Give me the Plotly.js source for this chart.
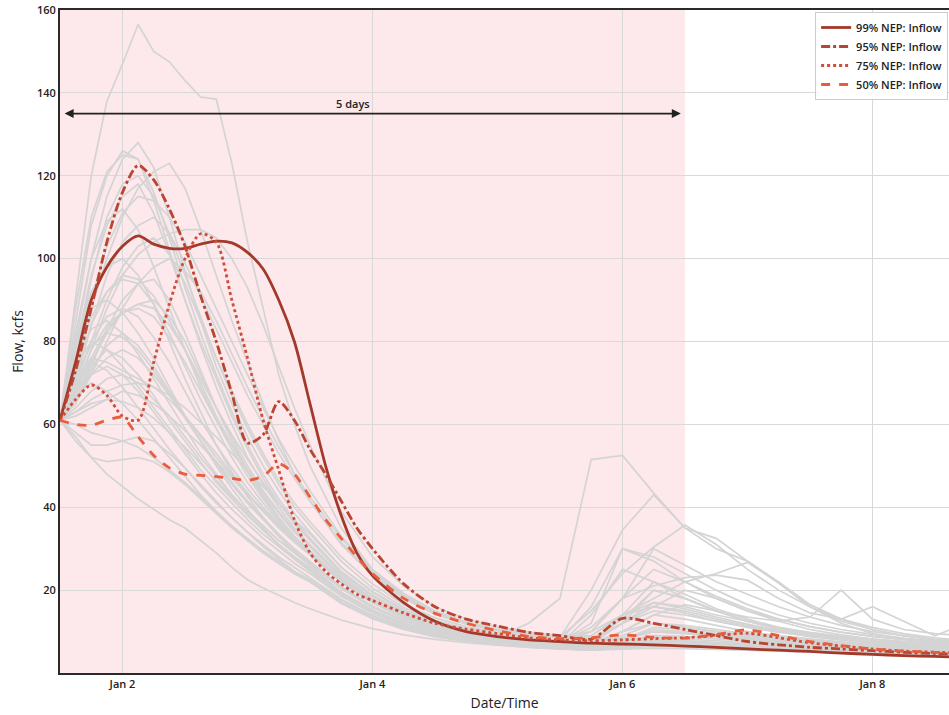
<!DOCTYPE html>
<html><head><meta charset="utf-8">
<script src="https://cdn.plot.ly/plotly-3.0.1.min.js"></script>
<style>html,body{margin:0;padding:0;background:#fff;overflow:hidden}</style>
</head><body><div id="chart" style="width:949px;height:715px"></div>
<script>
// ---- time grids (hours after forecast start, Jan 1 12:00) ----
const forecastStart = '2024-01-01T12:00:00Z';
const ensembleHours = [0,3,6,9,12,15,18,21,24,27,30,33,36,39,42,45,48,54,60,66,72,78,84,90,96,102,108,114,120,126,132,138,144,150,156,162,168,174];
const nepHours = [0,3,6,9,12,15,18,21,24,27,30,33,36,39,42,45,48,51,54,57,60,66,72,78,84,90,96,102,108,114,120,126,132,138,144,150,156,162,168,174];

// ---- ensemble members (kcfs) ----
const ens01 = [61,90,120,138,147,156.5,150,147.5,143,139,138.5,123,104,88,72,60,50,35,25,18.5,14.5,12,10.5,9.5,8.8,10,14,16,14.5,12.5,11,9.8,8.9,8.2,7.6,7.1,6.7,6.3];
const ens02 = [61,80,100,115,124,128,122,110,97,85,74,65,57,50,44,38.5,34,25.5,19.5,15,12.2,10.4,9.2,8.3,7.8,16,30,27,22,18.5,15.5,13,11.2,9.9,8.9,8.1,7.5,7];
const ens03 = [61,85,108,120,126,124,114,102,90,79,69,60,52,45.5,40,35,31,23.5,18,14,11.4,9.8,8.7,7.9,7.3,6.9,8.5,10,9.5,8.8,8.2,7.6,7.1,6.7,6.3,6,5.7,5.4];
const ens04 = [61,72,88,100,110,117,121,123,117,107,96,85,75,65,56,48,41.5,31,23.5,18,14.2,11.8,10.3,9.3,8.7,15,24,30.4,35.7,31,25,20,16,13,11,9.5,8.5,7.8];
const ens05 = [61,68,78,88,96,101,104,106,107,107,105,100,93,84,74,64,55,39,28,21,16,13,11.1,9.9,9,8.4,8,7.7,7.4,7.1,6.8,6.5,6.2,5.9,5.6,5.3,5.1,4.9];
const ens06 = [61,78,96,108,115,118,111,101,90,80,71,62,54,47,41,36,32,24,18.5,14.4,11.7,10,8.9,8.1,7.5,7.1,12,20,18,15,12.5,10.8,9.5,8.5,7.8,7.2,6.7,6.3];
const ens07 = [61,82,100,109,112,107,98,88,78,69,61,54,47.5,42,37,33,29.5,22,17,13.3,10.9,9.3,8.3,7.6,7,6.6,9,12,11,10,9,8.3,7.7,7.1,6.6,6.2,5.8,5.5];
const ens08 = [61,70,80,90,98,103,105,101,94,85,76,68,60,53,46.5,41,36.5,28,21.5,16.5,13.3,11.2,9.8,8.9,8.6,20,34.5,43,35,30,27,22,16.5,13,10.5,9,8,7.3];
const ens09 = [61,75,86,92,95,94,89,82,74,66,59,52,46,41,36.5,32.5,29,22,17,13.4,11,9.5,8.7,12,18,51.5,52.5,43.4,35,32.5,27,21.7,16,12,9.5,8.3,7.5,7];
const ens10 = [61,80,92,98,100,96,89,80,71,63,55,48.5,42.5,37.5,33,29,26,19.5,15.2,12,9.9,8.5,7.6,6.9,6.4,6,8,10,9.5,8.8,8.1,7.5,7,6.5,6.1,5.8,5.5,5.2];
const ens11 = [61,68,76,83,87,89,90,86,80,72,64,57,50,44,39,34.5,30.5,23,17.7,13.8,11.2,9.5,8.4,7.7,7.2,6.9,14,22,19,15.5,13,11,9.6,8.6,7.8,7.2,6.7,6.3];
const ens12 = [61,76,83,85,82,77,71,65,59,53,48,43,38.5,34.5,31,28,25,19,14.8,11.7,9.6,8.3,7.4,6.7,6.2,5.9,7.5,9,8.7,8.2,7.6,7.1,6.6,6.2,5.9,5.6,5.3,5];
const ens13 = [61,74,80,78,74,69,64,59,54,49,45,41,37,33.5,30.5,27.5,25,19.2,15,11.9,9.8,8.4,7.5,6.8,6.3,5.9,6.6,7.4,7.3,7,6.6,6.2,5.9,5.6,5.3,5,4.8,4.6];
const ens14 = [61,68,74,78,76,72,67,61,56,51,46,42,38,34.5,31,28,25.5,19.5,15.2,12,9.9,8.5,7.6,6.9,6.4,8,13,20,18,15,12.5,10.6,9.2,8.2,7.4,6.8,6.3,5.9];
const ens15 = [61,70,75,73,69,64,59,54,49.5,45,41,37.5,34,31,28,25.5,23,17.8,13.9,11,9.1,7.9,7,6.4,5.9,5.6,8,11,10.5,9.6,8.7,8,7.3,6.7,6.2,5.8,5.4,5.1];
const ens16 = [61,64,68,71,72,70,66,62,57,52,47.5,43,39,35.5,32,29,26.5,20.5,16,12.7,10.4,8.9,7.9,7.1,6.6,9,14,16,15,13,11.5,10,8.8,7.9,7.2,6.6,6.1,5.7];
const ens17 = [61,56,52,51,51.5,52,51,48.5,45.5,42,38.5,35,32,29,26.5,24,22,17,13.4,10.8,9,7.8,7,6.4,6,5.7,6.3,7,6.9,6.6,6.3,6,5.7,5.4,5.1,4.9,4.7,4.5];
const ens18 = [61,57,52,48,45,42,39.5,37,35,32,29,25.5,22.5,20.5,18.8,17,15.5,12.8,10.7,9.2,8.1,7.3,6.7,6.2,5.8,5.5,5.8,6,5.9,5.7,5.5,5.3,5.1,4.9,4.7,4.5,4.3,4.1];
const ens19 = [61,60,58,57,56,54.5,52,49,46,42.5,39,35.5,32.5,29.5,27,24.5,22.5,17.5,13.8,11.1,9.2,8,7.1,6.5,6,5.7,6.2,6.8,6.7,6.4,6.1,5.8,5.5,5.2,5,4.8,4.6,4.4];
const ens20 = [61,66,73,79,82,79,74,68,62,56,50.5,45.5,41,37,33,29.5,26.5,20.3,15.8,12.5,10.3,8.8,7.8,7.1,6.6,6.2,10,14,13,11.5,10,9,8.2,7.5,6.9,6.4,6,5.6];
const ens21 = [61,66,74,83,90,94,95,90,82,73,64,56,49,43,37.5,33,29,22,17,13.3,10.9,9.3,8.3,7.6,7,14,25,22,18,15,12.5,10.7,9.4,8.4,7.6,7,6.5,6.1];
const ens22 = [61,70,84,96,104,108,110,106,99,91,83,75,67,60,53,47,41.5,31.5,24,18.3,14.4,11.9,10.3,9.2,8.5,9,14,18,22,24,26.7,21.7,16,12.5,10.5,9,8,7.4];
const ens23 = [61,67,75,82,87,89,88,84,78,71,64,57.5,51.5,46,41,36.5,32.5,24.5,18.8,14.6,11.8,10,8.9,8.1,7.5,7.2,10,14,16.5,15,13.5,12.5,13.5,20,13,10.5,9.5,9];
const ens24 = [61,69,78,84,87,88,86,81,75,68,61,55,49,43.5,38.5,34,30.5,23,17.8,14,11.4,9.7,8.7,8,7.5,11,18,21,23,23.6,22.4,18,14.5,13,16,12.5,9,12];
const ens25 = [61,72,84,92,96,95,91,85,78,70,62,55,48.5,42.5,37.5,33,29.5,22.5,17.3,13.6,11.1,9.5,8.5,7.8,7.3,12,30,28,24,20,16.5,14,12,10.5,9.3,8.4,7.7,7.1];
const ens26 = [61,67,70,68,65,61,56.5,52,47.5,43,39,35.5,32,29,26.5,24,22,17,13.4,10.8,9,7.8,7,6.4,6,5.7,8,10.5,10,9.2,8.4,7.7,7.1,6.6,6.2,5.8,5.5,5.2];
const ens27 = [61,76,95,110,118,120,115,106,96,86,76,67,59,52,45.5,40,35.5,27,20.5,15.8,12.7,10.7,9.4,8.5,7.9,10,18,30,26,22,19,16,13.5,11.5,10,9,8.2,7.6];
const ens28 = [61,65,72,80,88,94,98,100,97,92,85,77,69,61.5,54.5,48,42.5,32.5,24.5,18.7,14.7,12.1,10.4,9.3,8.6,8.1,12,17,16,14,12.5,11,9.8,8.9,8.2,7.6,7.1,6.7];
const ens29 = [61,63,65,66,65.5,64,61.5,58,54.5,50.5,46.5,42.5,39,35.5,32,29,26.5,20.5,16,12.6,10.3,8.8,7.8,7.1,6.6,6.2,6.8,7.6,7.4,7,6.6,6.2,5.9,5.6,5.3,5,4.8,4.6];
const ens30 = [61,58,55,55,56,57,56,53,49.5,45.5,41.5,37.5,34,30.5,27.5,24.5,22,16.8,13.1,10.5,8.7,7.6,6.8,6.2,5.8,5.5,6,6.5,6.4,6.2,5.9,5.6,5.4,5.1,4.9,4.7,4.5,4.3];
const ens31 = [61,66,72,76,78,76,72,67,61.5,56,51,46,41.5,37.5,33.5,30,27,20.8,16.2,12.8,10.5,9,8,7.3,6.9,10,18,25,22,18,15,13,11.2,9.8,8.8,8,7.3,6.8];
const ens32 = [61,80,88,90,87,82,76,69,62,56,50,44.5,39.5,35,31,27.5,24.5,18.7,14.6,11.6,9.6,8.3,7.4,6.8,6.3,5.9,7,8.5,8.2,7.8,7.3,6.9,6.5,6.1,5.8,5.5,5.2,5];
const ens33 = [61,88,110,121,125,124,116,105,93,82,72,63,55,48,42,37,32.5,24.5,18.7,14.5,11.8,10,8.9,8.1,7.5,7.1,10,12,11,10,9.2,8.5,7.9,7.3,6.8,6.4,6,5.7];
const ens34 = [61,73,90,103,111,115,114,110,104,96,88,80,72,64,56.5,50,44,33,25,19.2,15,12.3,10.6,9.5,8.7,8.2,12,15,14,12.5,11.2,10,9,8.2,7.5,7,6.5,6.1];
const ens35 = [61,68,72,74,72,68,63,58,53,48,43.5,39.5,36,32.5,29.5,26.5,24,18.5,14.4,11.4,9.4,8.1,7.2,6.6,6.1,5.8,7,8,7.8,7.4,7,6.6,6.2,5.9,5.6,5.3,5,4.8];
const ens36 = [61,62,64,66,68,67,65,62,58.5,55,51,47,43,39.5,36,32.5,29.5,22.5,17.4,13.6,11,9.3,8.2,7.4,6.8,6.4,9,12,11.5,10.5,9.5,8.7,8,7.3,6.7,6.2,5.8,5.4];
const ens37 = [61,72,79,82,81,78,73,67.5,62,57,52,47.5,43,39,35.5,32,29,22.5,17.5,13.8,11.2,9.5,8.4,7.6,7,9,14,17,15.5,13.5,11.8,10.3,9.1,8.1,7.3,6.7,6.2,5.8];
const ens38 = [61,71,76,75,73,71,69,66,62,57.5,53,48,43.5,39,35,31.5,28.5,22,17.1,13.5,11,9.3,8.2,7.4,6.8,6.4,7.5,9,8.8,8.4,7.9,7.4,6.9,6.5,6.1,5.8,5.5,5.2];
const ens39 = [61,70,80,86,88,86,81,75,68,61,55,49.5,44.5,40,36,32,28.5,22,17,13.4,10.9,9.3,8.2,7.5,7,8,12,16,20,18,15,12.5,10.5,9.2,8.2,7.5,6.9,6.4];
const ens40 = [61,63,66,68,69.5,70,69,67,64,60.5,57,53,49,45,41,37,33.5,25.5,19.7,15.3,12.3,10.3,9,8.1,7.5,7,8.5,10,9.8,9.3,8.7,8.1,7.5,7,6.5,6.1,5.7,5.4];

// ---- NEP inflow traces (kcfs) ----
const nep99 = [61,75,90,98,103,105.5,103.5,102.5,102.5,103.5,104.2,103.8,101.5,97.5,90,80,65,50,38,29,23.5,17,12.5,10,8.8,8,7.6,7.2,7,6.8,6.5,6.2,5.8,5.5,5.2,4.8,4.5,4.2,4,3.8];
const nep95 = [61,73,88,104,116,122.5,119,112,103,91,80,67.5,55.5,57.5,65.5,61,54,48,41.5,35,30,21.5,16,13,11.3,9.8,9,8.2,13.2,12,10.5,9,7.6,6.8,6.2,5.8,5.4,5,4.7,4.5];
const nep75 = [61,66,69.5,67,62,61,75,89,100,106,104,90,76,61,49,37,29,24.5,21.5,19,17.5,14.5,12,10.6,9.5,8.5,8,7.8,8,8.3,8.5,9,9.6,8.5,7.3,6.5,5.8,5.3,5,4.8];
const nep50 = [61,60,59.8,61,61.7,57,52.5,49.5,48,47.7,47.4,47,46.5,47.5,50.5,48,42.5,37,32.5,28,24,18,14.4,12,10.2,8.8,8.3,8.5,9.2,8.6,8.4,9.3,10.4,9,7.6,6.6,5.8,5.3,5,4.8];

const nepNames = ['99% NEP: Inflow','95% NEP: Inflow','75% NEP: Inflow','50% NEP: Inflow'];
const nepColors = ['#a3392b','#b9442f','#d14d3b','#e85d3c'];
const nepDash = ['solid','dashdot','dot','dash'];

const yTicks = [20,40,60,80,100,120,140,160];
const arrowLabel = '5 days';
const shadeHours = [0,120];

function toDate(h){
  const d = new Date(Date.parse(forecastStart) + h*3600000);
  return d.toISOString().slice(0,16).replace('T',' ');
}

const ensemble = [ens01,ens02,ens03,ens04,ens05,ens06,ens07,ens08,ens09,ens10,ens11,ens12,ens13,ens14,ens15,ens16,ens17,ens18,ens19,ens20,ens21,ens22,ens23,ens24,ens25,ens26,ens27,ens28,ens29,ens30,ens31,ens32,ens33,ens34,ens35,ens36,ens37,ens38,ens39,ens40];
const ensX = ensembleHours.map(toDate);
const nepX = nepHours.map(toDate);

const traces = [];
ensemble.forEach(m => traces.push({
  x: ensX, y: m, type:'scatter', mode:'lines', showlegend:false, hoverinfo:'skip',
  line:{color:'#d4d4d4', width:1.7}
}));
[nep99,nep95,nep75,nep50].forEach((v,i) => traces.push({
  x: nepX, y: v, type:'scatter', mode:'lines', name: nepNames[i],
  line:{color:nepColors[i], width:2.8, dash:nepDash[i], shape:'spline', smoothing:0.8}
}));

const tickFont = {family:'Open Sans, DejaVu Sans, sans-serif', size:11, color:'#222', weight:600};

const layout = {
  width:949, height:715,
  margin:{l:60, r:0, t:10, b:42},
  paper_bgcolor:'#ffffff', plot_bgcolor:'#ffffff',
  showlegend:true,
  xaxis:{
    type:'date', range:[toDate(0), toDate(170.7)],
    tick0:'2024-01-02', dtick:2*86400000, tickformat:'%b %-d',
    showgrid:true, gridcolor:'#d9d9d9', gridwidth:1,
    showline:true, linecolor:'#2a2a2a', linewidth:2, mirror:true,
    ticks:'', tickfont:tickFont, zeroline:false,
    title:{text:'Date/Time', font:{family:'Open Sans, DejaVu Sans, sans-serif', size:14, color:'#222'}, standoff:8}
  },
  yaxis:{
    range:[0,160], tickvals:yTicks, ticktext:yTicks.map(String),
    showgrid:true, gridcolor:'#d9d9d9', gridwidth:1,
    showline:true, linecolor:'#2a2a2a', linewidth:2,
    ticks:'', tickfont:tickFont, zeroline:false,
    title:{text:'Flow, kcfs', font:{family:'Open Sans, DejaVu Sans, sans-serif', size:14, color:'#222'}, standoff:10}
  },
  shapes:[{
    type:'rect', xref:'x', yref:'paper', x0:toDate(shadeHours[0]), x1:toDate(shadeHours[1]), y0:0, y1:1,
    fillcolor:'#fde8ec', line:{width:0}, layer:'below'
  }],
  annotations:[
    {xref:'x', yref:'y', axref:'x', ayref:'y', x:toDate(shadeHours[1]-0.8), y:135, ax:toDate(shadeHours[0]+0.6), ay:135,
     text:'', showarrow:true, arrowside:'end+start', arrowhead:2, arrowsize:1, arrowwidth:1.8, arrowcolor:'#222'},
    {xref:'x', yref:'y', x:toDate(60), y:135, text:arrowLabel, showarrow:false, xanchor:'right', yanchor:'bottom', yshift:1,
     font:{family:'Open Sans, DejaVu Sans, sans-serif', size:11, color:'#222', weight:600}}
  ],
  legend:{
    x:0.999, xanchor:'right', y:0.997, yanchor:'top',
    bgcolor:'rgba(255,255,255,0.9)', bordercolor:'#cccccc', borderwidth:1,
    font:{family:'Open Sans, DejaVu Sans, sans-serif', size:11, color:'#222', weight:600},
    tracegroupgap:0
  }
};

Plotly.newPlot('chart', traces, layout, {displayModeBar:false, staticPlot:true});
</script></body></html>
